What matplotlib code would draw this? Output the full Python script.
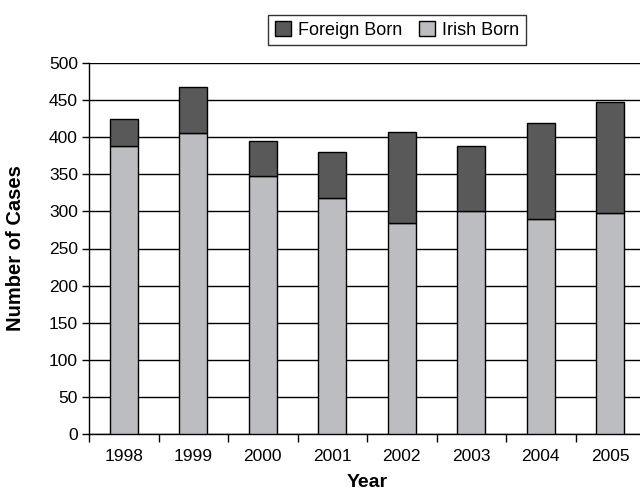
import matplotlib
matplotlib.use('Agg')
import matplotlib.pyplot as plt
import numpy as np

plt.rcParams['font.family'] = ['Liberation Sans', 'DejaVu Sans']

years = ["1998", "1999", "2000", "2001", "2002", "2003", "2004", "2005"]
irish_born = [388, 405, 348, 318, 285, 300, 290, 298]
total_cases = [424, 468, 395, 380, 407, 388, 419, 448]
foreign_born = [t - i for t, i in zip(total_cases, irish_born)]

fig = plt.figure(figsize=(6.4, 4.93), dpi=100)
ax = fig.add_axes([89/640, 1 - 434/493, 556/640, (434 - 63)/493])

x = np.arange(len(years))
b1 = ax.bar(x, irish_born, width=0.4, color='#bcbdc1', edgecolor='black', linewidth=1, zorder=3, label='Irish Born')
b2 = ax.bar(x, foreign_born, bottom=irish_born, width=0.4, color='#595959', edgecolor='black', linewidth=1, zorder=3, label='Foreign Born')

ax.set_ylim(0, 500)
ax.set_xlim(-0.5, len(years) - 0.5)
ax.set_yticks(range(0, 501, 50))
ax.yaxis.grid(True, color='black', linewidth=1, zorder=0)
ax.set_axisbelow(True)

ax.set_xticks(np.arange(-0.5, len(years), 1))
ax.set_xticklabels([])
ax.set_xticks(x, minor=True)
ax.set_xticklabels(years, minor=True, fontsize=12.5)
ax.tick_params(axis='x', which='minor', length=0, pad=11)
ax.tick_params(axis='x', which='major', length=6, direction='out', width=1)
ax.tick_params(axis='y', length=5, direction='out', width=1, labelsize=12.5, pad=3)

for s in ['top', 'right']:
    ax.spines[s].set_visible(False)
ax.spines['left'].set_linewidth(1)
ax.spines['bottom'].set_linewidth(1)

ax.set_xlabel('Year', fontweight='bold', fontsize=14, labelpad=7)
ax.set_ylabel('Number of Cases', fontweight='bold', fontsize=14.5, labelpad=17)

leg = fig.legend([b2, b1], ['Foreign Born', 'Irish Born'], loc='center',
                 bbox_to_anchor=(397/640, 1 - 30/493), ncol=2, fontsize=13,
                 frameon=True, fancybox=False, edgecolor='black',
                 handlelength=0.9, handleheight=0.9, handletextpad=0.4,
                 columnspacing=0.9, borderpad=0.35)
leg.get_frame().set_linewidth(1)

plt.savefig('out.png', dpi=100)
plt.close()
